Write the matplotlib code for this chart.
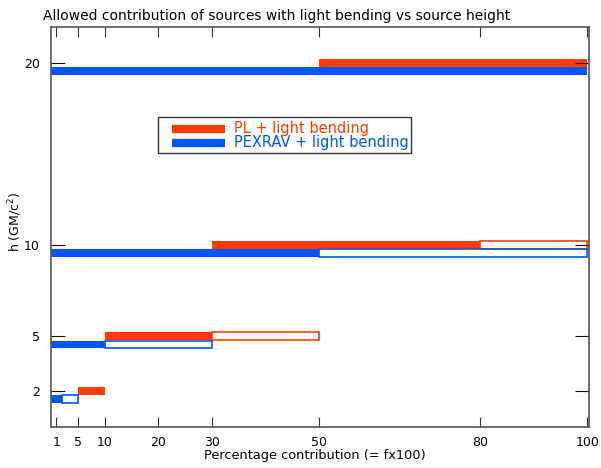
import numpy as np
import matplotlib
matplotlib.use("Agg")
import matplotlib.pyplot as plt
from matplotlib.patches import Rectangle
from matplotlib.lines import Line2D

# alturas de la fuente (GM/c^2)
heights = [2, 5, 10, 20]

# intervalos permitidos (inicio, fin) en % ; None = sin barra
pl_fill = [(5, 10), (10, 30), (30, 80), (50, 100)]
pl_open = [None, (30, 50), (80, 100), None]
pex_fill = [(0, 2), (0, 10), (0, 50), (0, 100)]
pex_open = [(2, 5), (10, 30), (50, 100), None]

xticks = [1, 5, 10, 20, 30, 50, 80, 100]
yticks = [2, 5, 10, 20]
labels = ['PL + light bending', 'PEXRAV + light bending']

red = '#ff3c00'
blue = '#0055ff'
bar_h = 0.43
offset = 0.45

W, H = 601, 468
fig = plt.figure(figsize=(W / 100, H / 100), dpi=100)
ax = fig.add_axes([0.0849, 0.0870, 0.8952, 0.8560])

for h, f, o in zip(heights, pl_fill, pl_open):
    if f is not None:
        ax.barh(h, f[1] - f[0], left=f[0], height=bar_h, color=red, linewidth=0)
    if o is not None:
        ax.barh(h, o[1] - o[0], left=o[0], height=bar_h, fill=False,
                edgecolor=red, linewidth=1.2)

for h, f, o in zip(heights, pex_fill, pex_open):
    if f is not None:
        ax.barh(h - offset, f[1] - f[0], left=f[0], height=bar_h, color=blue, linewidth=0)
    if o is not None:
        ax.barh(h - offset, o[1] - o[0], left=o[0], height=bar_h, fill=False,
                edgecolor=blue, linewidth=1.2)

ax.set_xlim(0, 100.3)
ax.set_ylim(0, 22)
ax.set_xticks(xticks)
ax.set_yticks(yticks)
ax.tick_params(axis='x', direction='in', length=7, top=True, labelsize=9, pad=6, color='#333333')
ax.tick_params(axis='y', direction='in', length=10, right=True, labelsize=9, pad=8, color='#111111')
for s in ax.spines.values():
    s.set_color('#555555')
    s.set_linewidth(1.2)

fig.text(315 / W, 1 - 456 / H, 'Percentage contribution (= fx100)', fontsize=9.3,
         ha='center', va='center')
fig.text(15 / W, 1 - 222 / H, 'h (GM/c$^2$)', fontsize=9, rotation=90,
         ha='center', va='center')
fig.text(43 / W, 1 - 16 / H, 'Allowed contribution of sources with light bending vs source height',
         fontsize=10, ha='left', va='center')

# leyenda dibujada a mano (pixeles de la figura)
def px(x, y):
    return x / W, 1 - y / H

x0, y0 = px(158, 153)
x1, y1 = px(411, 117)
fig.add_artist(Rectangle((x0, y0), x1 - x0, y1 - y0, transform=fig.transFigure,
                         fill=False, edgecolor='#333333', linewidth=1.0))
for yl, lab, c in zip([128.5, 143], labels, [red, blue]):
    xa, ya = px(172, yl)
    xb, _ = px(225, yl)
    fig.add_artist(Line2D([xa, xb], [ya, ya], transform=fig.transFigure,
                          color=c, linewidth=6, solid_capstyle='butt'))
    xt, yt = px(234, yl)
    fig.text(xt, yt, lab, color=c, fontsize=10.5, ha='left', va='center')

fig.savefig('out.png', dpi=100)
